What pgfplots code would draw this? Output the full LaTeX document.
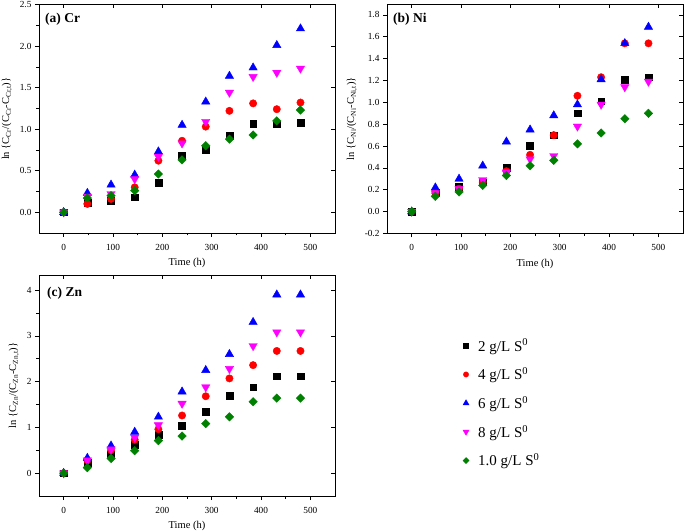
\documentclass[border=0pt]{standalone}
\usepackage{pgfplots}
\pgfplotsset{compat=1.18}
\usepackage{fontspec}
\setmainfont{Liberation Serif}
\definecolor{mgreen}{RGB}{0,128,0}
\definecolor{mmag}{RGB}{255,0,255}
\pgfplotsset{
  panel/.style={scale only axis, anchor=south west, width=296pt,
    xmin=-50, xmax=550, xtick={0,100,...,500}, minor x tick num=1,
    tick align=outside, xtick pos=left, ytick pos=left,
    axis line style={line width=0.7pt},
    major tick length=4pt, minor tick length=2.5pt,
    tick style={line width=0.6pt, black},
    /pgf/number format/assume math mode=true,
    ticklabel style={font=\fontsize{9.3}{10}\selectfont},
    xticklabel style={yshift=-3.5pt},
    label style={font=\fontsize{10.5}{12}\selectfont},
    xlabel={Time (h)},
    xlabel style={yshift=-1.5pt},
    ylabel style={yshift=1pt},
    only marks},
  mirror/.style={scale only axis, anchor=south west, width=296pt,
    xmin=-50, xmax=550, xtick={0,100,...,500},
    tick align=inside, xtick pos=right, ytick pos=right,
    axis line style={draw=none},
    major tick length=4pt, xticklabels={}, yticklabels={},
    tick style={line width=0.6pt, black}},
  sA/.style={black, mark=square*, mark size=3.4pt},
  sB/.style={red, mark=*, mark size=3.7pt},
  sC/.style={blue, mark=triangle*, mark size=4.8pt},
  sD/.style={mmag, mark=triangle*, mark size=4.8pt, mark options={rotate=180}},
  sE/.style={mgreen, mark=square*, mark size=3pt, mark options={rotate=45}},
}
\begin{document}
\begin{tikzpicture}
\path[use as bounding box] (0pt,0pt) rectangle (685pt,530pt);
% ---------------- (a) Cr
\begin{axis}[panel, at={(39pt,297pt)}, height=228.5pt, ymin=-0.25, ymax=2.5,
  ytick={0,0.5,...,2.5}, minor y tick num=1,
  yticklabel style={/pgf/number format/.cd, fixed, fixed zerofill, precision=1},
  ylabel={ln \{C\textsubscript{Cr}/(C\textsubscript{Cr}-C\textsubscript{Cr,t})\}}]
\addplot[sA] coordinates {(0,0)(48,0.11)(96,0.14)(144,0.18)(192,0.36)(240,0.68)(288,0.75)(336,0.92)(384,1.07)(432,1.06)(480,1.08)};
\addplot[sB] coordinates {(0,0)(48,0.10)(96,0.16)(144,0.30)(192,0.62)(240,0.86)(288,1.03)(336,1.22)(384,1.31)(432,1.24)(480,1.32)};
\addplot[sC] coordinates {(0,0)(48,0.23)(96,0.33)(144,0.45)(192,0.73)(240,1.05)(288,1.33)(336,1.64)(384,1.74)(432,2.01)(480,2.21)};
\addplot[sD] coordinates {(0,0)(48,0.19)(96,0.22)(144,0.40)(192,0.67)(240,0.83)(288,1.09)(336,1.44)(384,1.63)(432,1.68)(480,1.73)};
\addplot[sE] coordinates {(0,0)(48,0.17)(96,0.20)(144,0.26)(192,0.46)(240,0.63)(288,0.80)(336,0.88)(384,0.93)(432,1.10)(480,1.23)};
\node[anchor=north west, inner sep=0pt, font=\bfseries\fontsize{13.5}{15}\selectfont] at ([xshift=6pt,yshift=-8pt]rel axis cs:0,1) {(a) Cr};
\end{axis}
\begin{axis}[mirror, at={(39pt,297pt)}, height=228.5pt, ymin=-0.25, ymax=2.5, ytick={0,0.5,...,2.5}]
\end{axis}
% ---------------- (b) Ni
\begin{axis}[panel, at={(387pt,296.5pt)}, height=229.5pt, ymin=-0.2, ymax=1.9,
  ytick={-0.2,0,0.2,...,1.8}, minor y tick num=1,
  yticklabel style={/pgf/number format/.cd, fixed, fixed zerofill, precision=1},
  ylabel={ln \{C\textsubscript{Ni}/(C\textsubscript{Ni}-C\textsubscript{Ni,t})\}}]
\addplot[sA] coordinates {(0,0)(48,0.17)(96,0.23)(144,0.27)(192,0.40)(240,0.60)(288,0.70)(336,0.90)(384,1.01)(432,1.21)(480,1.23)};
\addplot[sB] coordinates {(0,0)(48,0.17)(96,0.21)(144,0.27)(192,0.37)(240,0.52)(288,0.70)(336,1.06)(384,1.23)(432,1.54)(480,1.54)};
\addplot[sC] coordinates {(0,0)(48,0.22)(96,0.30)(144,0.42)(192,0.64)(240,0.75)(288,0.88)(336,0.98)(384,1.21)(432,1.54)(480,1.69)};
\addplot[sD] coordinates {(0,0)(48,0.17)(96,0.21)(144,0.29)(192,0.36)(240,0.48)(288,0.51)(336,0.78)(384,0.98)(432,1.14)(480,1.19)};
\addplot[sE] coordinates {(0,0)(48,0.14)(96,0.18)(144,0.24)(192,0.33)(240,0.42)(288,0.47)(336,0.62)(384,0.72)(432,0.85)(480,0.90)};
\node[anchor=north west, inner sep=0pt, font=\bfseries\fontsize{13.5}{15}\selectfont] at ([xshift=6pt,yshift=-9pt]rel axis cs:0,1) {(b) Ni};
\end{axis}
\begin{axis}[mirror, at={(387pt,296.5pt)}, height=229.5pt, ymin=-0.2, ymax=1.9, ytick={-0.2,0,0.2,...,1.8}]
\end{axis}
% ---------------- (c) Zn
\begin{axis}[panel, at={(39pt,34pt)}, height=221pt, ymin=-0.5, ymax=4.33,
  ytick={0,1,...,4}, minor y tick num=1,
  ylabel={ln \{C\textsubscript{Zn}/(C\textsubscript{Zn}-C\textsubscript{Zn,t})\}},
  legend style={at={(1.56,0.42)}, anchor=center, draw=none, fill=white,
    font=\fontsize{15}{17}\selectfont, row sep=11pt, inner xsep=22pt, inner ysep=10pt},
  legend cell align=left,
  legend image code/.code={\path (0cm,0cm) (0.55cm,0cm);
    \draw[#1, /tikz/every mark/.append style={scale=0.72}] plot coordinates {(0.2cm,0cm)};}]
\addplot[sA] coordinates {(0,0)(48,0.22)(96,0.40)(144,0.62)(192,0.84)(240,1.04)(288,1.35)(336,1.69)(384,1.88)(432,2.12)(480,2.12)};
\addlegendentry{2 g/L S\textsuperscript{0}}
\addplot[sB] coordinates {(0,0)(48,0.28)(96,0.50)(144,0.73)(192,0.96)(240,1.26)(288,1.68)(336,2.07)(384,2.36)(432,2.67)(480,2.67)};
\addlegendentry{4 g/L S\textsuperscript{0}}
\addplot[sC] coordinates {(0,0)(48,0.33)(96,0.60)(144,0.90)(192,1.23)(240,1.78)(288,2.25)(336,2.60)(384,3.30)(432,3.90)(480,3.90)};
\addlegendentry{6 g/L S\textsuperscript{0}}
\addplot[sD] coordinates {(0,0)(48,0.28)(96,0.52)(144,0.78)(192,1.05)(240,1.52)(288,1.88)(336,2.28)(384,2.78)(432,3.08)(480,3.08)};
\addlegendentry{8 g/L S\textsuperscript{0}}
\addplot[sE] coordinates {(0,0)(48,0.12)(96,0.32)(144,0.49)(192,0.71)(240,0.81)(288,1.08)(336,1.23)(384,1.56)(432,1.64)(480,1.64)};
\addlegendentry{1.0 g/L S\textsuperscript{0}}
\node[anchor=north west, inner sep=0pt, font=\bfseries\fontsize{13.5}{15}\selectfont] at ([xshift=8pt,yshift=-12pt]rel axis cs:0,1) {(c) Zn};
\end{axis}
\begin{axis}[mirror, at={(39pt,34pt)}, height=221pt, ymin=-0.5, ymax=4.33, ytick={0,1,...,4}]
\end{axis}
\end{tikzpicture}
\end{document}
